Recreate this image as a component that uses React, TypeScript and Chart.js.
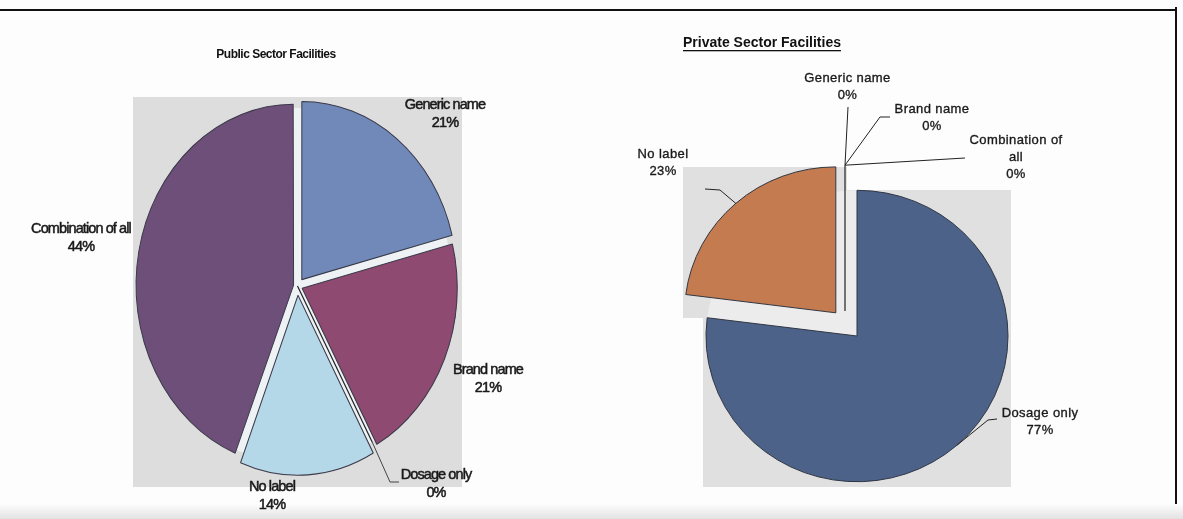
import React, { useEffect, useRef } from 'react';
import { Chart, registerables } from 'chart.js';

Chart.register(...registerables);

// ---------------- data ----------------
const publicTitle = 'Public Sector Facilities';
const publicCategories = ['Generic name', 'Brand name', 'Dosage only', 'No label', 'Combination of all'];
const publicValues = [21, 21, 0, 14, 44];

const privateTitle = 'Private Sector Facilities';
const privateCategories = ['Generic name', 'Brand name', 'Combination of all', 'Dosage only', 'No label'];
const privateValues = [0, 0, 0, 77, 23];

// ---------------- styles / layout ----------------
const publicColors = ['#7089b9', '#8e4a71', '#b5d8e8', '#b5d8e8', '#6e4f79'];
const publicOffsets = [28, 20, 0, 32, 16];
const privateColors = ['#4c6289', '#4c6289', '#4c6289', '#4c6289', '#c47b4f'];
const privateOffsets = [104, 104, 104, 0, 128];

type LabelLayout = { x: number; y: number; lines: string[]; leader?: number[][] };

const publicLabelLayout: LabelLayout[] = [
  { x: 445, y: 105, lines: ['Generic name'] },
  { x: 488, y: 370, lines: ['Brand name'] },
  { x: 436, y: 475, lines: ['Dosage only'], leader: [[390, 482], [399, 482]] },
  { x: 272, y: 487, lines: ['No label'] },
  { x: 81, y: 229, lines: ['Combination of all'] },
];

const privateLabelLayout: LabelLayout[] = [
  { x: 257.5, y: 78, lines: ['Generic name'], leader: [[258, 107]] },
  { x: 342, y: 109, lines: ['Brand name'], leader: [[290, 117], [300, 117]] },
  { x: 426, y: 140, lines: ['Combination of', 'all'], leader: [[375, 158]] },
  { x: 450, y: 413, lines: ['Dosage only'], leader: [[398, 420], [407, 419]] },
  { x: 73, y: 154, lines: ['No label'], leader: [[130, 190], [115, 189]] },
];

type DecorOpts = {
  values: number[];
  layout: LabelLayout[];
  bgRects: number[][];
  plotBg: string;
  gapColor: string;
  sy: number;
  zeroShiftX: number;
  labelFont: string;
  labelSpacing: string;
  labelStroke: number;
  lineHeight: number;
  title: string;
  titleFont: string;
  titleSpacing: string;
  titleX: number;
  titleY: number;
  titleAlign: CanvasTextAlign;
  titleUnderline: boolean;
  leaderColor: string;
};

function makeDecor(o: DecorOpts) {
  const geom = (chart: any, i: number) => {
    const el = chart.getDatasetMeta(0).data[i];
    const p = el.getProps(['x', 'y', 'startAngle', 'endAngle', 'outerRadius'], true);
    const mid = (p.startAngle + p.endAngle) / 2;
    const t = (el.options.offset || 0) / 4;
    const zero = p.endAngle - p.startAngle === 0;
    const dx = zero ? o.zeroShiftX : 0;
    return {
      cx: p.x + dx + Math.cos(mid) * t,
      cy: p.y + o.sy * Math.sin(mid) * t,
      rimX: p.x + dx + Math.cos(mid) * (p.outerRadius + t),
      rimY: p.y + o.sy * Math.sin(mid) * (p.outerRadius + t),
      zero,
    };
  };
  return {
    id: 'decor',
    beforeDraw(chart: any) {
      const ctx = chart.ctx;
      ctx.save();
      ctx.fillStyle = o.plotBg;
      for (const r of o.bgRects) ctx.fillRect(r[0], r[1], r[2] - r[0], r[3] - r[1]);
      ctx.restore();
    },
    beforeDatasetsDraw(chart: any) {
      const ctx = chart.ctx;
      const el = chart.getDatasetMeta(0).data[0];
      const p = el.getProps(['x', 'y', 'outerRadius'], true);
      ctx.save();
      ctx.fillStyle = o.gapColor;
      ctx.beginPath();
      ctx.ellipse(p.x, p.y, p.outerRadius, p.outerRadius * o.sy, 0, 0, Math.PI * 2);
      ctx.fill();
      ctx.restore();
      ctx.save();
      ctx.translate(p.x, p.y);
      ctx.scale(1, o.sy);
      ctx.translate(-p.x, -p.y);
    },
    afterDatasetsDraw(chart: any) {
      const ctx = chart.ctx;
      ctx.restore();
      // zero-value slice radials
      ctx.save();
      ctx.strokeStyle = '#222';
      ctx.lineWidth = 1.2;
      let drewZero = false;
      o.values.forEach((v, i) => {
        const g = geom(chart, i);
        if (g.zero && !drewZero) {
          ctx.beginPath();
          ctx.moveTo(g.cx, g.cy);
          ctx.lineTo(g.rimX, g.rimY);
          ctx.stroke();
          drewZero = true;
        }
      });
      // leader lines
      ctx.strokeStyle = o.leaderColor;
      ctx.lineWidth = 1;
      o.layout.forEach((l, i) => {
        if (!l.leader) return;
        const g = geom(chart, i);
        ctx.beginPath();
        ctx.moveTo(g.rimX, g.rimY);
        l.leader.forEach((pt) => ctx.lineTo(pt[0], pt[1]));
        ctx.stroke();
      });
      // labels
      ctx.fillStyle = '#1a1a1a';
      ctx.strokeStyle = '#1a1a1a';
      ctx.lineWidth = o.labelStroke;
      ctx.lineJoin = 'round';
      ctx.font = o.labelFont;
      (ctx as any).letterSpacing = o.labelSpacing;
      ctx.textAlign = 'center';
      ctx.textBaseline = 'middle';
      o.layout.forEach((l, i) => {
        const lines = [...l.lines, `${o.values[i]}%`];
        lines.forEach((t, k) => {
          ctx.fillText(t, l.x, l.y + k * o.lineHeight);
          if (o.labelStroke > 0) ctx.strokeText(t, l.x, l.y + k * o.lineHeight);
        });
      });
      // title
      ctx.font = o.titleFont;
      (ctx as any).letterSpacing = o.titleSpacing;
      ctx.textAlign = o.titleAlign;
      ctx.fillStyle = '#111';
      ctx.fillText(o.title, o.titleX, o.titleY);
      if (o.titleUnderline) {
        const w = ctx.measureText(o.title).width;
        ctx.fillRect(o.titleX, o.titleY + 7, w, 1.3);
      }
      ctx.restore();
    },
  };
}

function makeConfig(
  categories: string[],
  values: number[],
  colors: string[],
  offsets: number[],
  radius: number,
  padding: { left: number; right: number; top: number; bottom: number },
  borderColor: string,
  decor: any
): any {
  return {
    type: 'pie',
    data: {
      labels: categories,
      datasets: [
        {
          data: values,
          backgroundColor: colors,
          borderColor,
          borderWidth: 1,
          offset: offsets,
          clip: false,
        },
      ],
    },
    options: {
      responsive: false,
      animation: false,
      devicePixelRatio: 1,
      events: [],
      radius,
      layout: { padding },
      plugins: { legend: { display: false }, tooltip: { enabled: false } },
    },
    plugins: [decor],
  };
}

function PieCanvas(props: { config: () => any; left: number; width: number; height: number }) {
  const ref = useRef<HTMLCanvasElement>(null);
  useEffect(() => {
    const chart = new Chart(ref.current as HTMLCanvasElement, props.config());
    return () => chart.destroy();
  }, []);
  return (
    <canvas
      ref={ref}
      width={props.width}
      height={props.height}
      style={{ position: 'absolute', left: props.left, top: 0, width: props.width, height: props.height }}
    />
  );
}

export default function App() {
  const leftConfig = () =>
    makeConfig(
      publicCategories,
      publicValues,
      publicColors,
      publicOffsets,
      155,
      { left: 100, right: 95, top: 100, bottom: 47 },
      '#3a3a4a',
      makeDecor({
        values: publicValues,
        layout: publicLabelLayout,
        bgRects: [[133, 97, 462, 487]],
        plotBg: '#dddddd',
        gapColor: '#eef2f4',
        sy: 1.148,
        zeroShiftX: 0,
        labelFont: '14.5px "Liberation Sans", Arial, sans-serif',
        labelSpacing: '-0.9px',
        labelStroke: 0.5,
        lineHeight: 17.5,
        title: publicTitle,
        titleFont: 'bold 12px "Liberation Sans", Arial, sans-serif',
        titleSpacing: '-0.5px',
        titleX: 276,
        titleY: 55,
        titleAlign: 'center',
        titleUnderline: false,
        leaderColor: '#444',
      })
    );
  const rightConfig = () =>
    makeConfig(
      privateCategories,
      privateValues,
      privateColors,
      privateOffsets,
      151,
      { left: 60, right: 119, top: 180, bottom: 27 },
      '#2e3440',
      makeDecor({
        values: privateValues,
        layout: privateLabelLayout,
        bgRects: [
          [93, 167, 257, 318],
          [113, 190, 421, 487],
        ],
        plotBg: '#e0e0e0',
        gapColor: '#ececec',
        sy: 0.965,
        zeroShiftX: -12,
        labelFont: '13px "Liberation Sans", Arial, sans-serif',
        labelSpacing: '0.4px',
        labelStroke: 0.35,
        lineHeight: 17,
        title: privateTitle,
        titleFont: 'bold 14px "Liberation Sans", Arial, sans-serif',
        titleSpacing: '0px',
        titleX: 93,
        titleY: 43,
        titleAlign: 'left',
        titleUnderline: true,
        leaderColor: '#222',
      })
    );
  return (
    <div
      style={{
        position: 'fixed',
        left: 0,
        top: 0,
        width: 1183,
        height: 519,
        background: '#fdfdfd',
        overflow: 'hidden',
      }}
    >
      <div style={{ position: 'absolute', left: 0, top: 9, width: 1177, height: 2, background: '#111' }} />
      <div style={{ position: 'absolute', left: 1175, top: 7, width: 2, height: 508, background: '#111' }} />
      <div
        style={{
          position: 'absolute',
          left: 0,
          top: 504,
          width: 1183,
          height: 15,
          background: 'linear-gradient(#fdfdfd, #e2e2e2)',
        }}
      />
      <PieCanvas config={leftConfig} left={0} width={590} height={519} />
      <PieCanvas config={rightConfig} left={590} width={593} height={519} />
    </div>
  );
}
